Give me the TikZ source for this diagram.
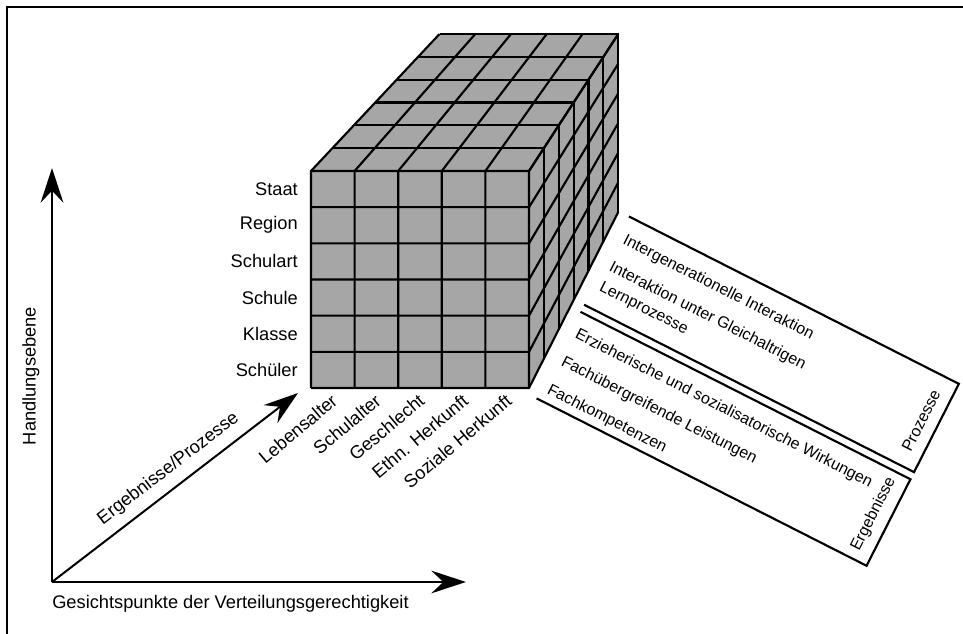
\documentclass[tikz,border=0pt]{standalone}
\usepackage{fontspec}
\setmainfont{Liberation Sans}
\usetikzlibrary{positioning}
\usetikzlibrary{calc}
\usetikzlibrary{arrows.meta}

\begin{document}
\begin{tikzpicture}[x=0.75pt, y=-0.75pt,
    cubefill/.style={fill=black!35},
    cubeline/.style={line width=1.6pt},
    axis/.style={line width=1.5pt, -{Stealth[length=26pt, width=17pt, inset=9pt]}},
    panelline/.style={line width=1.6pt},
    lbl/.style={font=\fontsize{13.7}{16}\selectfont, inner sep=0pt},
    paneltext/.style={font=\fontsize{12}{14}\selectfont, inner sep=0pt, transform shape}]

    \useasboundingbox (0,0) rectangle (963,634);
    \draw[line width=1.5pt] (7,634) |- (963,7);

    % cube corners: column i, row j, depth k
    \foreach \i in {0,...,5}
      \foreach \j in {0,...,6}
        \foreach \k in {0,...,6}
          \coordinate (c-\i-\j-\k) at ({311+43.6*\i+0.03*\k*(1025-311-43.6*\i)},{171+36.17*\j+0.03*\k*(-590-171-36.17*\j)});

    \fill[cubefill] (c-0-0-0) -- (c-5-0-0) -- (c-5-6-0) -- (c-0-6-0) -- cycle;
    \fill[cubefill] (c-0-0-0) -- (c-0-0-6) -- (c-5-0-6) -- (c-5-0-0) -- cycle;
    \fill[cubefill] (c-5-0-0) -- (c-5-0-6) -- (c-5-6-6) -- (c-5-6-0) -- cycle;

    \foreach \i in {0,...,5}
      \draw[cubeline] (c-\i-6-0) -- (c-\i-0-0) -- (c-\i-0-6);
    \foreach \j in {0,...,6}
      \draw[cubeline] (c-0-\j-0) -- (c-5-\j-0) -- (c-5-\j-6);
    \foreach \k in {0,...,6}
      \draw[cubeline] (c-0-0-\k) -- (c-5-0-\k) -- (c-5-6-\k);

    \foreach \lab [count=\j from 0] in {Staat, Region, Schulart, Schule, Klasse, Schüler}
      \node[lbl, anchor=east] (lvl-\j) at ($(c-0-\j-0)+(-13,18.1)$) {\lab};

    \foreach \lab [count=\i from 0] in {Lebensalter, Schulalter, Geschlecht, Ethn. Herkunft, Soziale Herkunft}
      \node[lbl, anchor=base east, rotate=40] (dim-\i) at ($(c-\i-6-0)+(27.8,15)$) {\lab};

    % axes
    \coordinate (o) at (52,582);
    \coordinate (yend) at (52,168);
    \coordinate (xend) at (466,582);
    \coordinate (zend) at (298,393);

    \draw[axis] (o) -- (yend);
    \draw[axis] (o) -- (xend);
    \draw[axis] (o) -- node[lbl, sloped, above=7pt, pos=0.52] (zlab) {Ergebnisse/Prozesse} (zend);

    \node[lbl, rotate=90] (ylab) at (31,376) {Handlungsebene};
    \node[lbl, anchor=base west] (xlab) at (52,608) {Gesichtspunkte der Verteilungsgerechtigkeit};

    % Prozesse / Ergebnisse
    \begin{scope}[shift={(628,216)}, rotate=-26.9]
      \draw[panelline] (1,0) -- (371,0) -- (371,99) -- (1,99);
      \draw[panelline] (1,107) -- (371,107) -- (371,204) -- (1,204);

      \node[paneltext, anchor=base west] (pr-1) at (7,27.5) {Intergenerationelle Interaktion};
      \node[paneltext, anchor=base west] (pr-2) at (7,57.5) {Interaktion unter Gleichaltrigen};
      \node[paneltext, anchor=base west] (pr-3) at (7,79.5) {Lernprozesse};
      \node[paneltext, anchor=base west] (er-1) at (7,133) {Erzieherische und sozialisatorische Wirkungen};
      \node[paneltext, anchor=base west] (er-2) at (7,164) {Fachübergreifende Leistungen};
      \node[paneltext, anchor=base west] (er-3) at (7,195) {Fachkompetenzen};

      \node[paneltext, rotate=90] (proz) at (354,50) {Prozesse};
      \node[paneltext, rotate=90] (erg) at (354,155) {Ergebnisse};
    \end{scope}
\end{tikzpicture}
\end{document}
